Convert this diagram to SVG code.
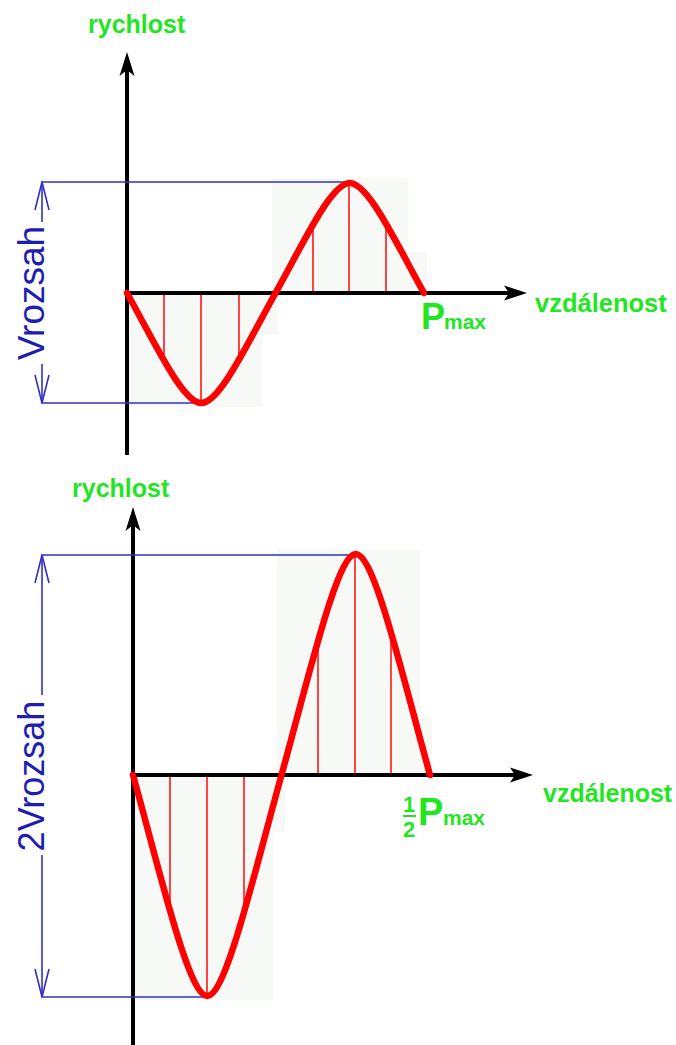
<svg xmlns="http://www.w3.org/2000/svg" width="676" height="1045" viewBox="0 0 676 1045">
<style>
.lbl{font-family:"Liberation Sans",Arial,sans-serif;font-weight:bold;fill:#22e622}
.vr{font-family:"Liberation Sans",Arial,sans-serif;fill:#1e1eb0}
.axis{stroke:#000;stroke-width:4;fill:none}
.head{fill:#000}
.blue{stroke:#3030c8;stroke-width:1.6;fill:none}
.curve{stroke:#ff0000;stroke-width:6.5;fill:none;stroke-linecap:round;stroke-linejoin:round}
.tick{stroke:#ff3030;stroke-width:1.8;fill:none}
.shade{fill:#f6f9f6}
</style>
<rect width="676" height="1045" fill="#fff"/>

<g id="chart-top">
  <g id="shading-top">
    <rect class="shade" x="127" y="293" width="135" height="114"/>
    <rect class="shade" x="262" y="293" width="16" height="42"/>
    <rect class="shade" x="272" y="178" width="136" height="115"/>
    <rect class="shade" x="408" y="252" width="19" height="41"/>
  </g>
  <g id="ticks-top">
    <line class="tick" x1="164" y1="293" x2="164" y2="360"/>
    <line class="tick" x1="201" y1="293" x2="201" y2="402"/>
    <line class="tick" x1="239" y1="293" x2="239" y2="360"/>
    <line class="tick" x1="313" y1="293" x2="313" y2="226"/>
    <line class="tick" x1="349" y1="293" x2="349" y2="184"/>
    <line class="tick" x1="386" y1="293" x2="386" y2="226"/>
  </g>
  <g id="axes-top">
    <line class="axis" x1="127" y1="455" x2="127" y2="68"/>
    <polygon class="head" points="127,52 119.5,76 127,70 134.5,76"/>
    <line class="axis" x1="127" y1="293" x2="512" y2="293"/>
    <polygon class="head" points="527,293 504,285.5 509,293 504,300.5"/>
  </g>
  <g id="range-top">
    <line class="blue" x1="41" y1="182" x2="346" y2="182"/>
    <line class="blue" x1="41" y1="403" x2="200" y2="403"/>
    <line class="blue" x1="42" y1="182" x2="42" y2="222"/>
    <line class="blue" x1="42" y1="364" x2="42" y2="403"/>
    <polyline class="blue" points="35,210 42,182 49,210"/>
    <polyline class="blue" points="35,375 42,403 49,375"/>
    <text class="vr" font-size="37" transform="translate(44,293) rotate(-90)" text-anchor="middle">Vrozsah</text>
  </g>
  <path id="curve-top" class="curve" d="M127,293 C155.2,343.6 182.69,403 201.25,403 C219.81,403 247.3,343.6 275.5,293 C303.7,242.4 331.19,183 349.75,183 C368.31,183 395.8,242.4 424,293"/>
  <text id="lbl-rychlost-top" class="lbl" x="88" y="33" font-size="25">rychlost</text>
  <text id="lbl-vzdalenost-top" class="lbl" x="535" y="312" font-size="25.5">vzdálenost</text>
  <g id="lbl-pmax-top">
    <text class="lbl" x="421" y="329" font-size="36">P</text>
    <text class="lbl" x="444" y="329" font-size="21">max</text>
  </g>
</g>

<g id="chart-bottom">
  <g id="shading-bottom">
    <rect class="shade" x="133" y="775" width="140" height="225"/>
    <rect class="shade" x="273" y="775" width="12" height="57"/>
    <rect class="shade" x="277" y="550" width="143" height="225"/>
    <rect class="shade" x="420" y="718" width="12" height="57"/>
  </g>
  <g id="ticks-bottom">
    <line class="tick" x1="170" y1="775" x2="170" y2="911"/>
    <line class="tick" x1="207" y1="775" x2="207" y2="995"/>
    <line class="tick" x1="244" y1="775" x2="244" y2="911"/>
    <line class="tick" x1="318" y1="775" x2="318" y2="639"/>
    <line class="tick" x1="355" y1="775" x2="355" y2="555"/>
    <line class="tick" x1="391" y1="775" x2="391" y2="639"/>
  </g>
  <g id="axes-bottom">
    <line class="axis" x1="133" y1="1045" x2="133" y2="523"/>
    <polygon class="head" points="133,507 125.5,531 133,525 140.5,531"/>
    <line class="axis" x1="133" y1="775" x2="518" y2="775"/>
    <polygon class="head" points="533,775 510,767.5 515,775 510,782.5"/>
  </g>
  <g id="range-bottom">
    <line class="blue" x1="41" y1="555" x2="352" y2="555"/>
    <line class="blue" x1="41" y1="997" x2="205" y2="997"/>
    <line class="blue" x1="42" y1="555" x2="42" y2="695"/>
    <line class="blue" x1="42" y1="855" x2="42" y2="997"/>
    <polyline class="blue" points="35,583 42,555 49,583"/>
    <polyline class="blue" points="35,969 42,997 49,969"/>
    <text class="vr" font-size="36" transform="translate(44,776) rotate(-90)" text-anchor="middle">2Vrozsah</text>
  </g>
  <path id="curve-bottom" class="curve" d="M133,775 C161.2,876.66 188.69,996 207.25,996 C225.81,996 253.3,876.66 281.5,775 C309.7,673.34 337.19,554 355.75,554 C374.31,554 401.8,673.34 430,775"/>
  <text id="lbl-rychlost-bottom" class="lbl" x="72" y="497" font-size="25">rychlost</text>
  <text id="lbl-vzdalenost-bottom" class="lbl" x="543" y="802" font-size="25">vzdálenost</text>
  <g id="lbl-halfpmax-bottom">
    <text class="lbl" x="409" y="812" font-size="22" text-anchor="middle">1</text>
    <line x1="403" y1="816" x2="416" y2="816" stroke="#22e622" stroke-width="2"/>
    <text class="lbl" x="409" y="837" font-size="22" text-anchor="middle">2</text>
    <text class="lbl" x="418" y="825" font-size="38">P</text>
    <text class="lbl" x="443" y="825" font-size="21">max</text>
  </g>
</g>
</svg>
